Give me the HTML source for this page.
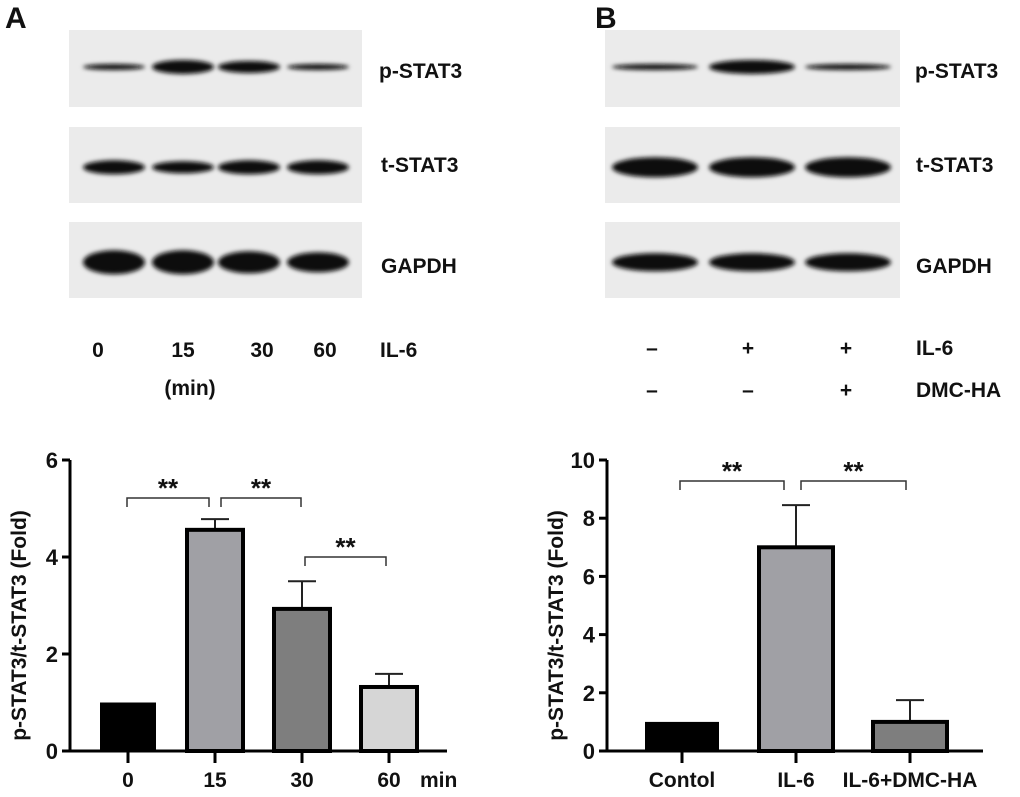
<!DOCTYPE html>
<html><head><meta charset="utf-8"><style>
body{margin:0;background:#fff;}
svg text{font-family:"Liberation Sans",Arial,sans-serif;font-weight:bold;fill:#111;}
</style></head><body>
<svg id="fig" width="1020" height="792" viewBox="0 0 1020 792" xmlns="http://www.w3.org/2000/svg">
<defs><filter id="bl" x="-20%" y="-100%" width="140%" height="300%"><feGaussianBlur stdDeviation="2"/></filter></defs>
<g id="blotsA"></g>
<g id="blotsB"></g>
<text x="5" y="28" font-size="30">A</text>
<text x="595" y="28" font-size="30">B</text>
<g font-size="21">
<text x="379" y="78">p-STAT3</text>
<text x="381" y="172">t-STAT3</text>
<text x="381" y="273">GAPDH</text>
<text x="915" y="78">p-STAT3</text>
<text x="916" y="172">t-STAT3</text>
<text x="916" y="273">GAPDH</text>
<text x="98" y="357" text-anchor="middle">0</text>
<text x="183" y="357" text-anchor="middle">15</text>
<text x="262" y="357" text-anchor="middle">30</text>
<text x="325" y="357" text-anchor="middle">60</text>
<text x="380" y="357">IL-6</text>
<text x="190" y="395" text-anchor="middle">(min)</text>
<text x="652" y="355" text-anchor="middle">–</text>
<text x="748" y="355" text-anchor="middle">+</text>
<text x="846" y="355" text-anchor="middle">+</text>
<text x="916" y="355">IL-6</text>
<text x="652" y="397" text-anchor="middle">–</text>
<text x="748" y="397" text-anchor="middle">–</text>
<text x="846" y="397" text-anchor="middle">+</text>
<text x="916" y="397">DMC-HA</text>
</g>
<g id="chartA"></g>
<g id="chartB"></g>
</svg>
<script>
const NS="http://www.w3.org/2000/svg";
function mk(p,t,a){const e=document.createElementNS(NS,t);for(const k in a)e.setAttribute(k,a[k]);p.appendChild(e);return e;}

const rowsY=[[30,107],[127,203],[222,298]];
function blots(g,x0,x1,lanes,widths,intens){
  rowsY.forEach((r,i)=>{
    const bx=mk(g,'rect',{x:x0,y:r[0],width:x1-x0,height:r[1]-r[0],fill:'#ebebeb'});
    
    
    const cy=i==0?r[0]+(r[1]-r[0])*0.48:r[0]+(r[1]-r[0])*0.53;
    lanes.forEach((cx,j)=>{
      const h=intens[i][j];
      const b=mk(g,'ellipse',{cx:cx,cy:cy,rx:widths/2,ry:h,fill:'#0a0a0a',filter:'url(#bl)'});
      
      
    });
  });
}
blots(document.getElementById('blotsA'),69,362,[114,183,249,318],62,[[3,7,6,3],[7,6,7,7],[12,12,11,10]]);
blots(document.getElementById('blotsB'),605,900,[655,752,848],86,[[3,7,3],[10,10,10],[9,9,9]]);

const catsA=["0","15","30","60"];
const valsA=[1.0,4.56,2.93,1.32];
const errA=[0,0.22,0.57,0.27];
const fillA=["#000","#a0a0a5","#7e7e7e","#d6d6d6"];
const ticksA=[0,2,4,6];
const catsB=["Contol","IL-6","IL-6+DMC-HA"];
const valsB=[1.0,7.0,1.0];
const errB=[0,1.45,0.75];
const fillB=["#000","#a0a0a5","#7e7e7e"];
const ticksB=[0,2,4,6,8,10];

function chart(g,o){
  const y=v=>o.y0-(v/o.max)*(o.y0-o.y1);
  const x=i=>o.c0+i*o.step;
  mk(g,'line',{x1:o.ax,y1:o.y1,x2:o.ax,y2:o.y0+1.5,stroke:'#000','stroke-width':3});
  mk(g,'line',{x1:o.ax,y1:o.y0,x2:o.xe,y2:o.y0,stroke:'#000','stroke-width':3});
  o.ticks.forEach(t=>{
    mk(g,'line',{x1:o.ax-8,y1:y(t),x2:o.ax,y2:y(t),stroke:'#000','stroke-width':3});
    const tx=mk(g,'text',{x:o.ax-12,y:y(t)+8,'font-size':22,'text-anchor':'end'});tx.textContent=t;
    
    
  });
  o.cats.forEach((c,i)=>{
    const cx=x(i),v=o.vals[i],w=o.bw;
    mk(g,'line',{x1:cx,y1:o.y0,x2:cx,y2:o.y0+12,stroke:'#000','stroke-width':3});
    const tl=mk(g,'text',{x:cx,y:o.y0+36,'font-size':21,'text-anchor':'middle'});tl.textContent=c;
    
    
    if(o.err[i]>0){
      const e=mk(g,'line',{x1:cx,y1:y(v),x2:cx,y2:y(v+o.err[i]),stroke:'#222','stroke-width':2});
      
      
      mk(g,'line',{x1:cx-14,y1:y(v+o.err[i]),x2:cx+14,y2:y(v+o.err[i]),stroke:'#222','stroke-width':2});
    }
    const r=mk(g,'rect',{x:cx-w/2,y:y(v),width:w,height:o.y0-y(v),fill:o.fill[i],stroke:'#000','stroke-width':i==0?0:4});
    
    
  });
  o.br.forEach(b=>{
    const p=mk(g,'path',{d:`M${b[0]} ${b[2]+9}V${b[2]}H${b[1]}V${b[2]+9}`,fill:'none',stroke:'#333','stroke-width':1.5});
    
    
    const s=mk(g,'text',{x:(b[0]+b[1])/2,y:b[2]-1,'font-size':26,'text-anchor':'middle'});s.textContent='**';
    
    
  });
  const yl=mk(g,'text',{transform:`translate(${o.ax-44},${(o.y0+o.y1)/2+20}) rotate(-90)`,'font-size':21,'text-anchor':'middle'});
  yl.textContent='p-STAT3/t-STAT3 (Fold)';
  
  
}
chart(document.getElementById('chartA'),{ax:70,xe:447,y0:751,y1:460,max:6,c0:128,step:87,bw:56,cats:catsA,vals:valsA,err:errA,fill:fillA,ticks:ticksA,
 br:[[127,209,498],[221,301,498],[305,386,557]]});
chart(document.getElementById('chartB'),{ax:607,xe:983,y0:751,y1:460,max:10,c0:682,step:114,bw:74,cats:catsB,vals:valsB,err:errB,fill:fillB,ticks:ticksB,
 br:[[680,784,481],[801,906,481]]});
const mt=mk(document.getElementById('chartA'),'text',{x:420,y:787,'font-size':21});mt.textContent='min';


</script>
</body></html>
